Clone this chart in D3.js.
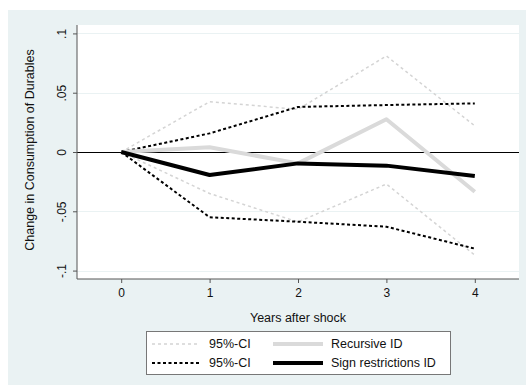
<!DOCTYPE html>
<html>
<head>
<meta charset="utf-8">
<script src="https://cdn.jsdelivr.net/npm/d3@7"></script>
<style>
  html, body { margin: 0; padding: 0; background: #ffffff; }
  svg { display: block; font-family: "Liberation Sans", Arial, sans-serif; }
</style>
</head>
<body>
<svg id="chart" width="526" height="385"></svg>
<script>
// Impulse responses of durables consumption, horizons 0-4 years
const years = [0, 1, 2, 3, 4];
const recursiveID = [0, 0.004, -0.0096, 0.0276, -0.0335];
const recursiveLo = [0, -0.035, -0.059, -0.027, -0.087];
const recursiveHi = [0, 0.0424, 0.036, 0.081, 0.022];
const signID = [0, -0.0194, -0.0096, -0.0115, -0.0202];
const signLo = [0, -0.055, -0.0588, -0.063, -0.0815];
const signHi = [0, 0.0157, 0.038, 0.0396, 0.041];
const yTicks = [-0.1, -0.05, 0, 0.05, 0.1];
const yTickLabels = ["-.1", "-.05", "0", ".05", ".1"];
const xTicks = [0, 1, 2, 3, 4];

const svg = d3.select("#chart");
const W = 526, H = 385;
const bg = "#eaf2f3";

// outer graph region
svg.append("rect").attr("x", 8).attr("y", 10).attr("width", W - 8).attr("height", H - 10).attr("fill", bg);

const plot = { left: 77, right: 519, top: 25, bottom: 279 };
svg.append("rect")
  .attr("x", plot.left).attr("y", plot.top)
  .attr("width", plot.right - plot.left).attr("height", plot.bottom - plot.top)
  .attr("fill", "#ffffff");

const x = d3.scaleLinear().domain([-0.5, 4.5]).range([plot.left, plot.right]);
const y = d3.scaleLinear().domain([-0.1071, 0.1071]).range([plot.bottom, plot.top]);
const crisp = v => Math.round(v) + 0.5;

// horizontal grid lines
svg.append("g").selectAll("line").data(yTicks).join("line")
  .attr("x1", plot.left).attr("x2", plot.right)
  .attr("y1", d => crisp(y(d))).attr("y2", d => crisp(y(d)))
  .attr("stroke", bg).attr("stroke-width", 1.2);

// zero reference line
svg.append("line")
  .attr("x1", plot.left).attr("x2", plot.right)
  .attr("y1", crisp(y(0))).attr("y2", crisp(y(0)))
  .attr("stroke", "#000").attr("stroke-width", 1);

// y axis
const yAxis = d3.axisLeft(y).tickValues(yTicks)
  .tickFormat((d, i) => yTickLabels[i]).tickSize(4).tickPadding(6);
const gy = svg.append("g").attr("transform", `translate(${plot.left},0)`).call(yAxis);
gy.select(".domain").attr("stroke", "#555").attr("d", `M0,${plot.top}V${plot.bottom}`);
gy.selectAll(".tick line").attr("stroke", "#555");
gy.selectAll(".tick text")
  .attr("font-size", 12).attr("fill", "#111")
  .attr("x", null)
  .attr("text-anchor", "middle")
  .attr("transform", "translate(-15,0) rotate(-90)")
  .attr("dy", "0.32em");

// x axis
const xAxis = d3.axisBottom(x).tickValues(xTicks).tickFormat(d3.format("d")).tickSize(4).tickPadding(5);
const gx = svg.append("g").attr("transform", `translate(0,${plot.bottom})`).call(xAxis);
gx.select(".domain").attr("stroke", "#555").attr("d", `M${plot.left},0H${plot.right}`);
gx.selectAll(".tick line").attr("stroke", "#555");
gx.selectAll(".tick text").attr("font-size", 12).attr("fill", "#111");

// axis titles
svg.append("text")
  .attr("x", x(2)).attr("y", 322)
  .attr("text-anchor", "middle").attr("font-size", 12.5).attr("fill", "#111")
  .text("Years after shock");
svg.append("text")
  .attr("transform", `translate(34,${(plot.top + plot.bottom) / 2 - 2}) rotate(-90)`)
  .attr("text-anchor", "middle").attr("font-size", 12.5).attr("fill", "#111")
  .text("Change in Consumption of Durables");

// series
const line = d3.line().x((d, i) => x(years[i])).y(d => y(d));
const styles = {
  grayCI: { stroke: "#d4d4d4", width: 1.5, dash: "3,3" },
  blackCI: { stroke: "#000", width: 2, dash: "3,2.5" },
  recursive: { stroke: "#dadada", width: 4, dash: null },
  sign: { stroke: "#000", width: 4, dash: null }
};
const series = [
  { values: recursiveLo, s: styles.grayCI },
  { values: recursiveHi, s: styles.grayCI },
  { values: signLo, s: styles.blackCI },
  { values: signHi, s: styles.blackCI },
  { values: recursiveID, s: styles.recursive },
  { values: signID, s: styles.sign }
];
svg.append("g").selectAll("path").data(series).join("path")
  .attr("d", d => line(d.values))
  .attr("fill", "none")
  .attr("stroke", d => d.s.stroke)
  .attr("stroke-width", d => d.s.width)
  .attr("stroke-dasharray", d => d.s.dash)
  .attr("stroke-linejoin", "round");

// legend
const leg = svg.append("g");
leg.append("rect").attr("x", 146.5).attr("y", 331.5).attr("width", 304).attr("height", 43)
  .attr("fill", "#fff").attr("stroke", "#777").attr("stroke-width", 1);
const legendItems = [
  { label: "95%-CI", s: styles.grayCI, x0: 152, x1: 200, tx: 209, ty: 344 },
  { label: "95%-CI", s: styles.blackCI, x0: 152, x1: 200, tx: 209, ty: 363 },
  { label: "Recursive ID", s: styles.recursive, x0: 273, x1: 323, tx: 331, ty: 344 },
  { label: "Sign restrictions ID", s: styles.sign, x0: 273, x1: 323, tx: 331, ty: 363 }
];
legendItems.forEach(it => {
  leg.append("line").attr("x1", it.x0).attr("x2", it.x1).attr("y1", it.ty).attr("y2", it.ty)
    .attr("stroke", it.s.stroke).attr("stroke-width", it.s.width)
    .attr("stroke-dasharray", it.s.dash);
  leg.append("text").attr("x", it.tx).attr("y", it.ty).attr("dy", "0.35em")
    .attr("font-size", 12.5).attr("fill", "#111").text(it.label);
});
</script>
</body>
</html>
